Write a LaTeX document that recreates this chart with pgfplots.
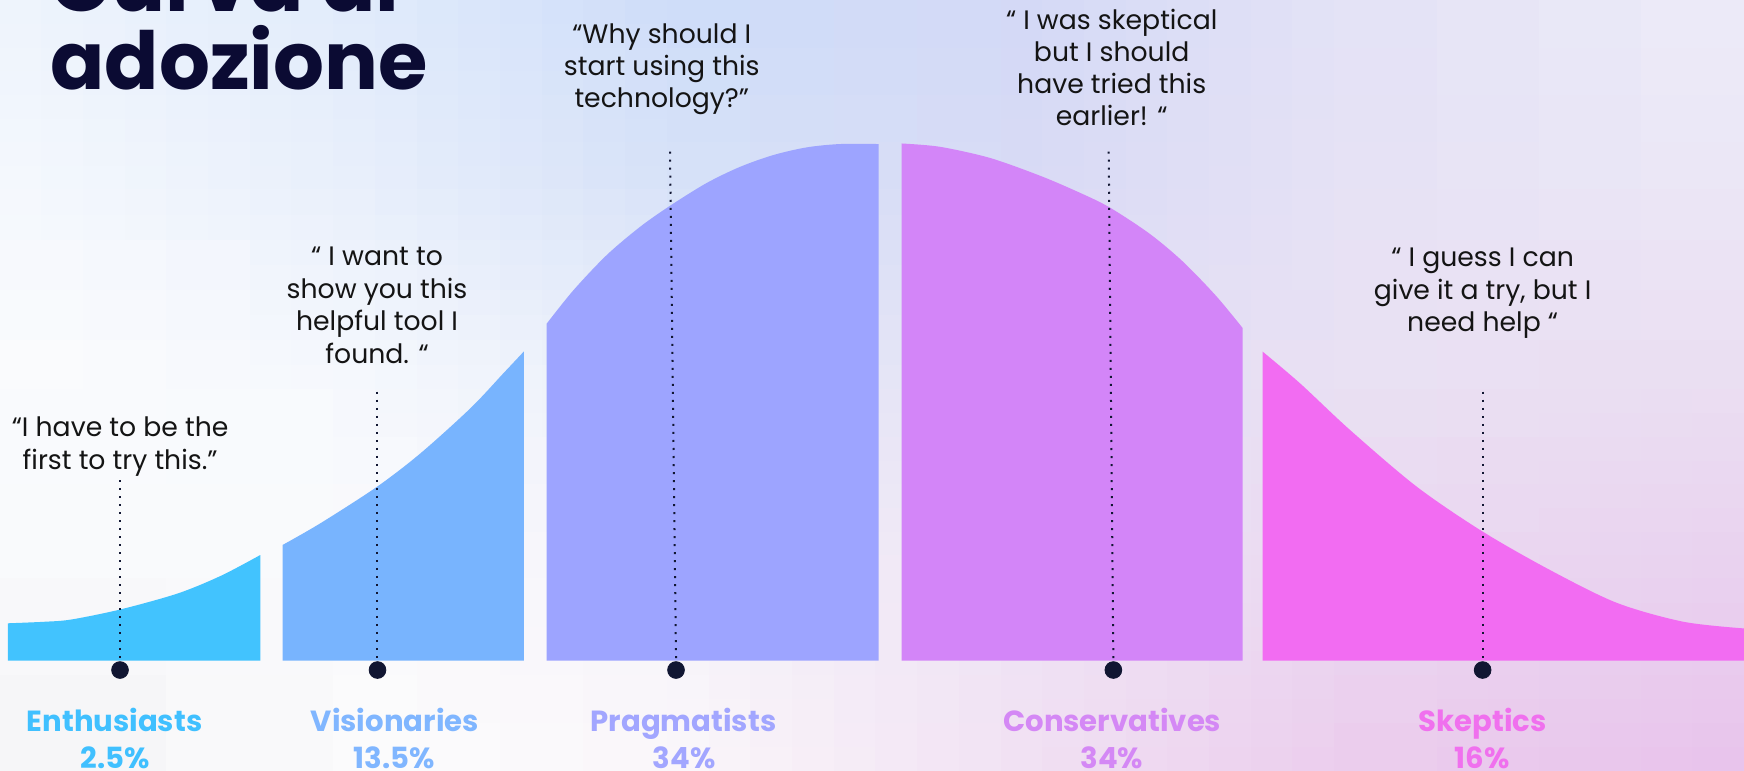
\documentclass[border=0pt]{standalone}
\usepackage{fontspec}
\setmainfont{Poppins}
\usepackage{pgfplots}
\pgfplotsset{compat=1.18}
\usepgfplotslibrary{patchplots}
\definecolor{cEnt}{HTML}{42C3FE}
\definecolor{cVis}{HTML}{78B4FE}
\definecolor{cPra}{HTML}{9DA4FF}
\definecolor{cCon}{HTML}{D385F8}
\definecolor{cSke}{HTML}{F26CF2}
\definecolor{lEnt}{HTML}{40C0FF}
\definecolor{lVis}{HTML}{80B6FF}
\definecolor{lPra}{HTML}{A2A6FF}
\definecolor{lCon}{HTML}{D488F5}
\definecolor{lSke}{HTML}{F070EE}
\definecolor{navy}{HTML}{0B0B33}
\definecolor{dotc}{HTML}{111632}
\definecolor{qtext}{HTML}{141414}
% background colour grid (rows A..E top to bottom, columns 0..5 left to right)
\definecolor{bgA0}{HTML}{EDF3FC}\definecolor{bgA1}{HTML}{E0EBFB}\definecolor{bgA2}{HTML}{CDDCF9}\definecolor{bgA3}{HTML}{D3D9F6}\definecolor{bgA4}{HTML}{E4E3F6}\definecolor{bgA5}{HTML}{EFEEF9}
\definecolor{bgB0}{HTML}{F4F8FD}\definecolor{bgB1}{HTML}{E8EFFB}\definecolor{bgB2}{HTML}{D6E1F8}\definecolor{bgB3}{HTML}{D8DAF5}\definecolor{bgB4}{HTML}{E6E2F5}\definecolor{bgB5}{HTML}{EDE9F7}
\definecolor{bgC0}{HTML}{FAFBFD}\definecolor{bgC1}{HTML}{F5F8FD}\definecolor{bgC2}{HTML}{E9EEF9}\definecolor{bgC3}{HTML}{E3DFF5}\definecolor{bgC4}{HTML}{E9E1F3}\definecolor{bgC5}{HTML}{EBDEF2}
\definecolor{bgD0}{HTML}{F9FAFC}\definecolor{bgD1}{HTML}{FAFAFC}\definecolor{bgD2}{HTML}{F5F2F9}\definecolor{bgD3}{HTML}{EEE4F5}\definecolor{bgD4}{HTML}{EAD8F0}\definecolor{bgD5}{HTML}{E9D1EF}
\definecolor{bgE0}{HTML}{F6F6F8}\definecolor{bgE1}{HTML}{FBFBFC}\definecolor{bgE2}{HTML}{FAF6FA}\definecolor{bgE3}{HTML}{F1E1F3}\definecolor{bgE4}{HTML}{EBCDED}\definecolor{bgE5}{HTML}{E8C3EC}
\newcommand{\qfont}{\fontsize{12pt}{14pt}\selectfont}
\newcommand{\lfont}{\fontsize{13.1pt}{15pt}\selectfont\bfseries}
\begin{document}
\begin{tikzpicture}
\path[use as bounding box] (0,0) rectangle (784pt,346.5pt);
\begin{scope}
\clip (0,0) rectangle (784pt,346.5pt);
\begin{axis}[at={(0,0)}, anchor=south west, width=784pt, height=346.5pt,
  scale only axis, xmin=0, xmax=1568, ymin=-99, ymax=594, hide axis, clip=false]
% background gradient
\addplot[patch, patch type=bilinear, shader=interp, mesh/color input=explicit] table[meta=c] {
x y c
0 424 color=bgB0
300 424 color=bgB1
300 594 color=bgA1
0 594 color=bgA0
300 424 color=bgB1
600 424 color=bgB2
600 594 color=bgA2
300 594 color=bgA1
600 424 color=bgB2
900 424 color=bgB3
900 594 color=bgA3
600 594 color=bgA2
900 424 color=bgB3
1200 424 color=bgB4
1200 594 color=bgA4
900 594 color=bgA3
1200 424 color=bgB4
1568 424 color=bgB5
1568 594 color=bgA5
1200 594 color=bgA4
0 244 color=bgC0
300 244 color=bgC1
300 424 color=bgB1
0 424 color=bgB0
300 244 color=bgC1
600 244 color=bgC2
600 424 color=bgB2
300 424 color=bgB1
600 244 color=bgC2
900 244 color=bgC3
900 424 color=bgB3
600 424 color=bgB2
900 244 color=bgC3
1200 244 color=bgC4
1200 424 color=bgB4
900 424 color=bgB3
1200 244 color=bgC4
1568 244 color=bgC5
1568 424 color=bgB5
1200 424 color=bgB4
0 74 color=bgD0
300 74 color=bgD1
300 244 color=bgC1
0 244 color=bgC0
300 74 color=bgD1
600 74 color=bgD2
600 244 color=bgC2
300 244 color=bgC1
600 74 color=bgD2
900 74 color=bgD3
900 244 color=bgC3
600 244 color=bgC2
900 74 color=bgD3
1200 74 color=bgD4
1200 244 color=bgC4
900 244 color=bgC3
1200 74 color=bgD4
1568 74 color=bgD5
1568 244 color=bgC5
1200 244 color=bgC4
0 -99 color=bgE0
300 -99 color=bgE1
300 74 color=bgD1
0 74 color=bgD0
300 -99 color=bgE1
600 -99 color=bgE2
600 74 color=bgD2
300 74 color=bgD1
600 -99 color=bgE2
900 -99 color=bgE3
900 74 color=bgD3
600 74 color=bgD2
900 -99 color=bgE3
1200 -99 color=bgE4
1200 74 color=bgD4
900 74 color=bgD3
1200 -99 color=bgE4
1568 -99 color=bgE5
1568 74 color=bgD5
1200 74 color=bgD4
};
% curve segments (x in px, height above base)
\addplot[fill=cEnt, draw=none, smooth] coordinates {(7,33.6) (40,35) (64,37) (108,46) (160,60.5) (199,76.5) (234,95)} \closedcycle;
\addplot[fill=cVis, draw=none, smooth] coordinates {(254,104) (288,123.5) (339,156.4) (378,186.4) (423,227) (452.5,258.3) (471,278)} \closedcycle;
\addplot[fill=cPra, draw=none, smooth] coordinates {(491.5,303) (515.5,333) (545.5,364.7) (575.4,390) (602.4,409) (635.4,429.5) (665.4,444) (695.3,454.6) (725.3,461.5) (755.3,464.5) (790,464.5)} \closedcycle;
\addplot[fill=cCon, draw=none, smooth] coordinates {(810.7,465) (845.2,462) (890.1,452) (935.1,436) (968,422) (996.8,408) (1033.4,384) (1063.3,359) (1093.3,328) (1117.3,299)} \closedcycle;
\addplot[fill=cSke, draw=none, smooth] coordinates {(1135.3,277.8) (1168.9,249.3) (1213.8,207.4) (1273.8,156.4) (1333.1,116) (1393.6,81.5) (1453.6,52) (1513.5,35) (1568,29)} \closedcycle;
% dotted guide lines
\pgfplotsset{guide/.style={draw=dotc, line width=0.9pt, dash pattern=on 0.9pt off 2.7pt}}
\addplot[guide] coordinates {(107.9,162.4) (107.9,2)};
\addplot[guide] coordinates {(339.3,241.8) (339.3,2)};
\addplot[guide] coordinates {(602.4,457.6) (607.8,2)};
\addplot[guide] coordinates {(996.8,457.6) (1001,2)};
\addplot[guide] coordinates {(1333.1,241.8) (1333.1,2)};
% dots
\addplot[only marks, mark=*, mark size=3.75pt, mark options={fill=dotc, draw=dotc}] coordinates {(107.9,-8.4) (339.4,-8.4) (607.8,-8.4) (1001,-8.4) (1333,-8.4)};
% title
\node[anchor=base west, text=navy, font=\fontsize{36pt}{35pt}\selectfont\bfseries, inner sep=0pt] at (axis cs:45,583.7) {Curva di};
\node[anchor=base west, text=navy, font=\fontsize{36pt}{35pt}\selectfont\bfseries, inner sep=0pt] at (axis cs:45,513.7) {adozione};
% quotes
\begin{scope}[every node/.style={anchor=base, text=qtext, font=\qfont, inner sep=0pt}]
\node at (axis cs:108,201.4) {“I have to be the};
\node at (axis cs:108,172) {first to try this.”};
\node at (axis cs:339,354.9) {“ I want to};
\node at (axis cs:339,325.7) {show you this};
\node at (axis cs:339,296.5) {helpful tool I};
\node at (axis cs:339,267.3) {found. “};
\node at (axis cs:595,555) {“Why should I};
\node at (axis cs:595,526.3) {start using this};
\node at (axis cs:595,497.5) {technology?”};
\node at (axis cs:999.5,567.6) {“ I was skeptical};
\node at (axis cs:999.5,538.9) {but I should};
\node at (axis cs:999.5,510.2) {have tried this};
\node at (axis cs:999.5,481.6) {earlier! “};
\node at (axis cs:1333,354.2) {“ I guess I can};
\node at (axis cs:1333,325) {give it a try, but I};
\node at (axis cs:1333,295.8) {need help “};
\end{scope}
% category labels
\begin{scope}[every node/.style={anchor=base, font=\lfont, inner sep=0pt}]
\node[text=lEnt] at (axis cs:103,-63.8) {Enthusiasts};
\node[text=lEnt] at (axis cs:103.7,-96.5) {2.5\%};
\node[text=lVis] at (axis cs:355,-63.8) {Visionaries};
\node[text=lVis] at (axis cs:354.5,-96.5) {13.5\%};
\node[text=lPra] at (axis cs:614.5,-63.8) {Pragmatists};
\node[text=lPra] at (axis cs:615,-96.5) {34\%};
\node[text=lCon] at (axis cs:1000,-63.8) {Conservatives};
\node[text=lCon] at (axis cs:999.7,-96.5) {34\%};
\node[text=lSke] at (axis cs:1333,-63.8) {Skeptics};
\node[text=lSke] at (axis cs:1332.6,-96.5) {16\%};
\end{scope}
\end{axis}
\end{scope}
\end{tikzpicture}
\end{document}
